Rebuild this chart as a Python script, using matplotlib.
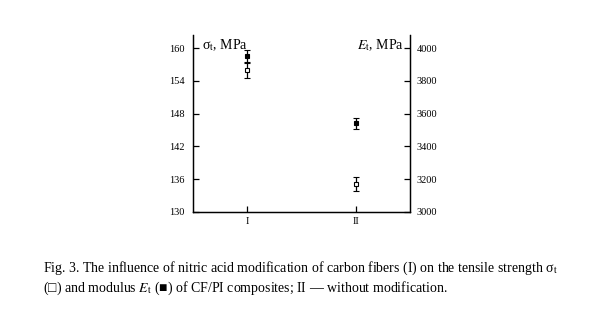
import matplotlib
matplotlib.use("Agg")
import matplotlib.pyplot as plt

plt.rcParams["font.family"] = ["Liberation Serif", "DejaVu Serif"]
plt.rcParams["mathtext.fontset"] = "stix"

groups = ["I", "II"]
strength = [156.0, 135.1]
strength_err = [1.5, 1.3]
modulus = [3950, 3540]
modulus_err = [40, 35]

fig = plt.figure(figsize=(6.0, 3.34), dpi=100)
ax = fig.add_axes([0.3217, 0.366, 0.3617, 0.529])
ax2 = ax.twinx()

x = list(range(1, len(groups) + 1))

ax.errorbar(x, strength, yerr=strength_err, fmt="s", color="black",
            mfc="white", mec="black", ms=3.3, mew=0.8, elinewidth=0.9,
            capsize=2.0, capthick=0.9, zorder=3)
ax2.errorbar(x, modulus, yerr=modulus_err, fmt="s", color="black",
             mfc="black", mec="black", ms=3.3, mew=0.8, elinewidth=0.9,
             capsize=2.0, capthick=0.9, zorder=3)

ax.set_xlim(0.5, 2.5)
ax.set_ylim(130, 162.4)
ax2.set_ylim(3000, 4081)
ax.set_xticks(x)
ax.set_xticklabels(groups)
ax.set_yticks(range(130, 161, 6))
ax2.set_yticks(range(3000, 4001, 200))

for a in (ax, ax2):
    a.spines["top"].set_visible(False)
    for s in a.spines.values():
        s.set_linewidth(0.9)
ax.tick_params(axis="both", direction="in", length=4, width=0.9, labelsize=7.5)
ax.tick_params(axis="y", pad=6)
ax2.tick_params(axis="y", direction="in", length=4, width=0.9, labelsize=7.5,
                pad=5)

ax.text(0.04, 0.985, r"σ${}_\mathrm{t}$, MPa", transform=ax.transAxes,
        ha="left", va="top", fontsize=10)
ax.text(0.97, 0.985, r"$E_\mathrm{t}$, MPa", transform=ax.transAxes,
        ha="right", va="top", fontsize=10)

cap1 = (r"Fig. 3. The influence of nitric acid modification of carbon fibers (I) "
        r"on the tensile strength σ${}_\mathrm{t}$")
cap2 = (r"(□) and modulus $E_\mathrm{t}$ (■) of CF/PI composites; "
        r"II — without modification.")
fig.text(0.072, 0.185, cap1, ha="left", va="baseline", fontsize=10)
fig.text(0.072, 0.125, cap2, ha="left", va="baseline", fontsize=10)

fig.savefig("out.png", dpi=100)
